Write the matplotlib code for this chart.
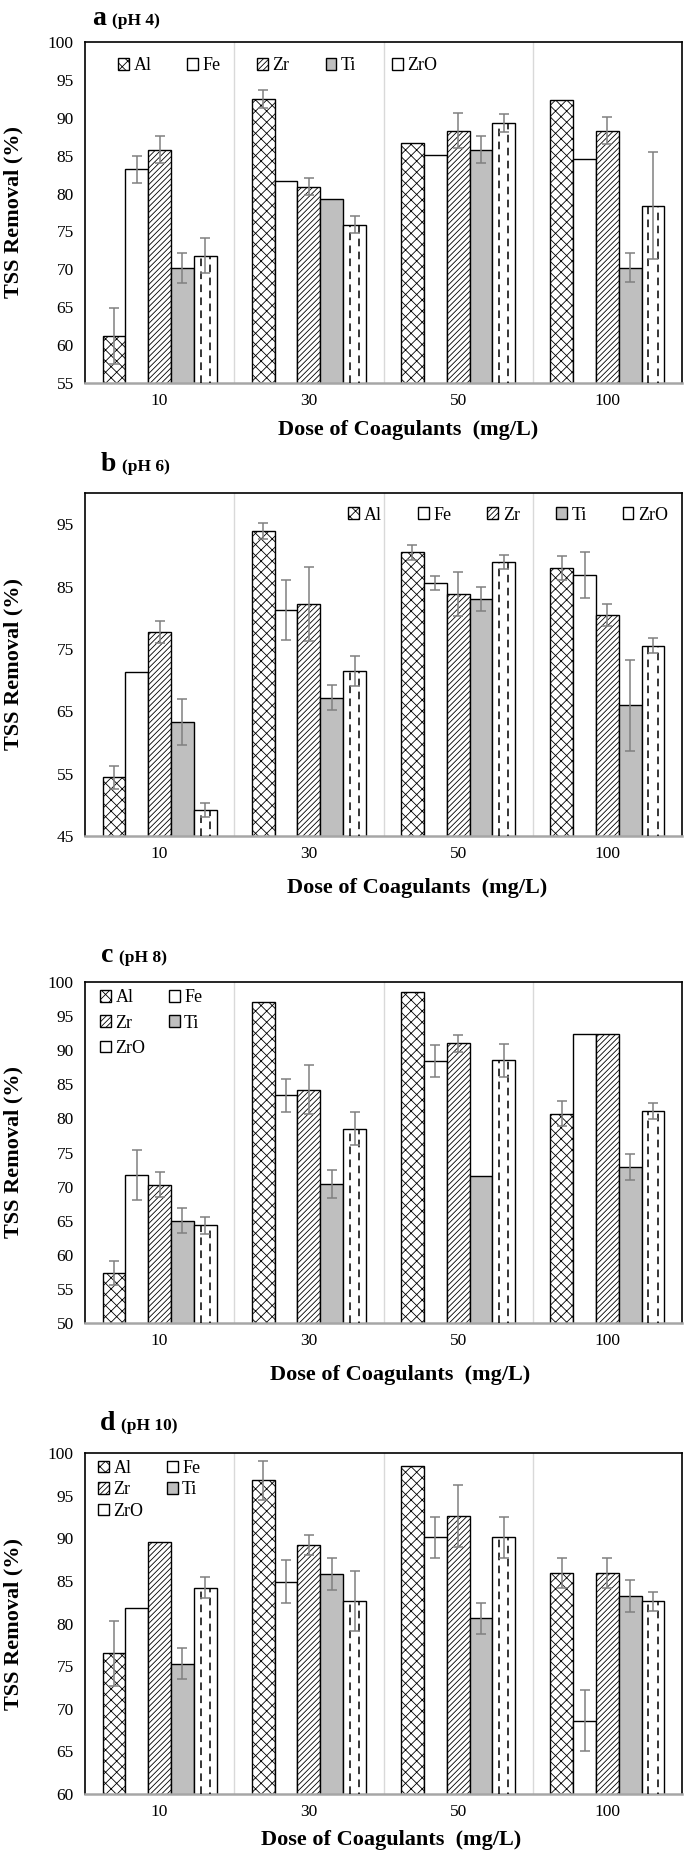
import numpy as np
import matplotlib
matplotlib.use('Agg')
import matplotlib.pyplot as plt
import matplotlib as mpl

mpl.rcParams['font.family'] = ['Liberation Serif', 'DejaVu Serif']
mpl.rcParams['hatch.linewidth'] = 0.6

doses = ['10', '30', '50', '100']
coagulants = ['Al', 'Fe', 'Zr', 'Ti', 'ZrO']

# TSS removal (%) per coagulant (rows: Al, Fe, Zr, Ti, ZrO), columns = dose
ph4_values = [[61.2, 92.5, 86.7, 92.3],
              [83.2, 81.7, 85.1, 84.5],
              [85.8, 80.9, 88.3, 88.3],
              [70.2, 79.3, 85.8, 70.2],
              [71.8, 75.9, 89.3, 78.4]]
ph4_errors = [[3.7, 1.2, 0, 0],
              [1.8, 0, 0, 0],
              [1.8, 1.1, 2.3, 1.8],
              [2.0, 0, 1.8, 1.9],
              [2.3, 1.1, 1.2, 7.1]]

ph6_values = [[54.4, 93.9, 90.5, 88.0],
              [71.3, 81.3, 85.6, 86.9],
              [77.7, 82.2, 83.8, 80.4],
              [63.3, 67.2, 83.0, 66.0],
              [49.2, 71.5, 88.9, 75.5]]
ph6_errors = [[1.8, 1.3, 1.2, 1.9],
              [0, 4.8, 1.1, 3.7],
              [1.8, 5.9, 3.6, 1.8],
              [3.7, 2.0, 1.9, 7.3],
              [1.1, 2.4, 1.1, 1.2]]

ph8_values = [[57.3, 97.0, 98.6, 80.7],
              [71.7, 83.4, 88.4, 92.4],
              [70.3, 84.2, 91.0, 92.4],
              [65.0, 70.4, 71.6, 72.9],
              [64.3, 78.5, 88.5, 81.1]]
ph8_errors = [[1.8, 0, 0, 1.8],
              [3.6, 2.4, 2.4, 0],
              [1.8, 3.6, 1.2, 0],
              [1.8, 2.0, 0, 1.9],
              [1.2, 2.4, 2.4, 1.2]]

ph10_values = [[76.5, 96.8, 98.5, 85.9],
               [81.8, 84.9, 90.1, 68.6],
               [89.6, 89.2, 92.6, 85.9],
               [75.3, 85.8, 80.6, 83.2],
               [84.2, 82.6, 90.1, 82.6]]
ph10_errors = [[3.8, 2.3, 0, 1.75],
               [0, 2.5, 2.4, 3.6],
               [0, 1.2, 3.6, 1.75],
               [1.85, 1.85, 1.8, 1.85],
               [1.2, 3.5, 2.4, 1.1]]

fills = ['white', 'white', 'white', '#bfbfbf', 'white']
hatches = ['xxx', None, '//////', None, None]

W, H = 685, 1860
fig = plt.figure(figsize=(W / 100, H / 100), dpi=100)


def px_rect(left, top, right, bottom):
    return [left / W, 1 - bottom / H, (right - left) / W, (bottom - top) / H]


def draw_panel(ax, values, errors, ylim, yticks):
    x = np.arange(len(doses))
    w = 0.153
    handles = []
    for i, name in enumerate(coagulants):
        pos = x + (i - 2) * w
        err = np.array(errors[i], dtype=float)
        err = np.where(err > 0, err, np.nan)
        bars = ax.bar(pos, values[i], w, color=fills[i], edgecolor='black',
                      linewidth=1.0, hatch=hatches[i], label=name, zorder=2)
        handles.append(bars)
        ax.errorbar(pos, values[i], yerr=err, fmt='none', ecolor='#808080',
                    elinewidth=1.1, capsize=3.5, capthick=1.1, zorder=4)
        if name == 'ZrO':
            for b in bars:
                for frac, off in ((0.3, 0), (0.7, 4)):
                    ax.vlines(b.get_x() + frac * b.get_width(), ylim[0], b.get_height(),
                              colors='black', linestyles=[(off, (5, 3.5))],
                              linewidth=1.1, zorder=3)
    for k in range(len(doses) - 1):
        ax.axvline(k + 0.5, color='#d9d9d9', lw=1.0, zorder=0)
    ax.set_xlim(-0.5, len(doses) - 0.5)
    ax.set_ylim(*ylim)
    ax.set_yticks(yticks)
    ax.set_xticks(x, doses)
    ax.tick_params(axis='both', length=0, labelsize=12.5)
    ax.tick_params(axis='y', pad=8)
    ax.tick_params(axis='x', pad=7)
    for s in ['top', 'left', 'right']:
        ax.spines[s].set_color('black')
        ax.spines[s].set_linewidth(1.2)
    ax.spines['bottom'].set_color('#a6a6a6')
    ax.spines['bottom'].set_linewidth(1.8)
    return handles


def add_title(letter, ph, x, y):
    t = fig.text(x / W, 1 - y / H, letter, fontsize=20, fontweight='bold', va='baseline')
    r = fig.canvas.get_renderer()
    bb = t.get_window_extent(r)
    fig.text((bb.x1 + 6) / W, 1 - y / H, ph, fontsize=12.5, fontweight='bold', va='baseline')


def add_labels(ax_top, ax_bottom, xl_x, xl_y):
    fig.text(13 / W, 1 - (ax_top + ax_bottom) / 2 / H, 'TSS Removal (%)', rotation=90,
             fontsize=16, fontweight='bold', ha='center', va='center')
    fig.text(xl_x / W, 1 - xl_y / H, 'Dose of Coagulants  (mg/L)', fontsize=16,
             fontweight='bold', ha='center', va='center')


# panel a
ax_a = fig.add_axes(px_rect(85, 42, 682, 383))
h = draw_panel(ax_a, ph4_values, ph4_errors, (55, 100), np.arange(55, 101, 5))
ax_a.legend(h, coagulants, loc='center left', bbox_to_anchor=((118 - 85) / 597, 1 - (66 - 42) / 341),
            ncol=5, frameon=False, fontsize=13, handlelength=0.6, handleheight=0.6,
            handletextpad=0.25, columnspacing=2.0, borderpad=0, borderaxespad=0)
add_title('a', '(pH 4)', 92, 25)
add_labels(42, 383, 408, 430)

# panel b
ax_b = fig.add_axes(px_rect(85, 493, 682, 836))
h = draw_panel(ax_b, ph6_values, ph6_errors, (45, 100), np.arange(45, 100, 10))
ax_b.legend(h, coagulants, loc='center right', bbox_to_anchor=((668 - 85) / 597, 1 - (515 - 493) / 343),
            ncol=5, frameon=False, fontsize=13, handlelength=0.6, handleheight=0.6,
            handletextpad=0.25, columnspacing=2.0, borderpad=0, borderaxespad=0)
add_title('b', '(pH 6)', 101, 471)
add_labels(493, 836, 417, 888)

# panel c
ax_c = fig.add_axes(px_rect(85, 982, 682, 1323))
h = draw_panel(ax_c, ph8_values, ph8_errors, (50, 100), np.arange(50, 101, 5))
order = [0, 2, 4, 1, 3]
ax_c.legend([h[i] for i in order], [coagulants[i] for i in order], loc='center left',
            bbox_to_anchor=((100 - 85) / 597, 1 - (1023 - 982) / 341),
            ncol=2, frameon=False, fontsize=13, handlelength=0.6, handleheight=0.6,
            handletextpad=0.25, columnspacing=1.3, labelspacing=0.45, borderpad=0, borderaxespad=0)
add_title('c', '(pH 8)', 101, 962)
add_labels(982, 1323, 400, 1375)

# panel d
ax_d = fig.add_axes(px_rect(85, 1453, 682, 1794))
h = draw_panel(ax_d, ph10_values, ph10_errors, (60, 100), np.arange(60, 101, 5))
ax_d.legend([h[i] for i in order], [coagulants[i] for i in order], loc='center left',
            bbox_to_anchor=((98 - 85) / 597, 1 - (1490 - 1453) / 341),
            ncol=2, frameon=False, fontsize=13, handlelength=0.6, handleheight=0.6,
            handletextpad=0.25, columnspacing=1.3, labelspacing=0.25, borderpad=0, borderaxespad=0)
add_title('d', '(pH 10)', 100, 1430)
add_labels(1453, 1794, 391, 1840)

fig.savefig('out.png', dpi=100)
